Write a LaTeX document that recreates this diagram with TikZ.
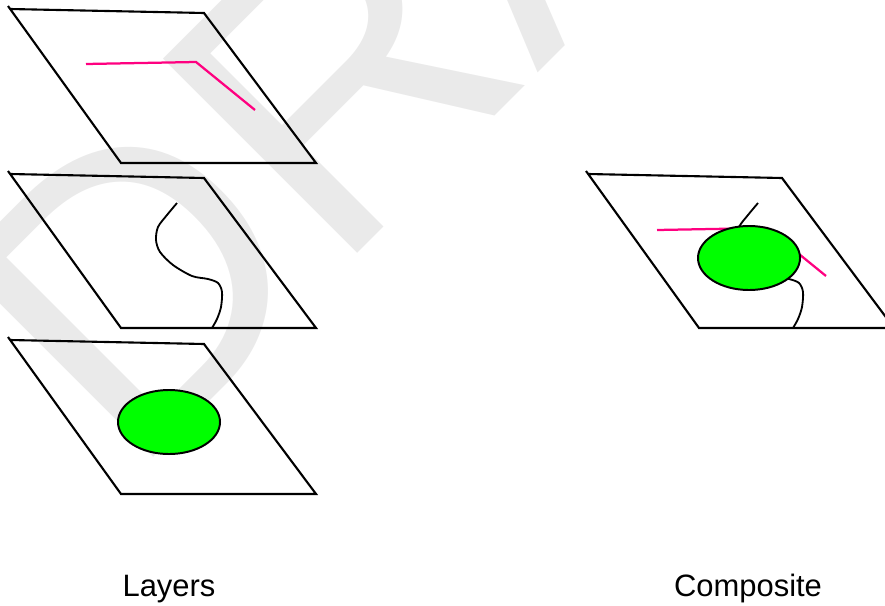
\documentclass[tikz,border=0pt]{standalone}
\usepackage{fontspec}
\setmainfont{Liberation Sans}
\usetikzlibrary{shapes.geometric}
\definecolor{layerpink}{RGB}{255,0,128}
\definecolor{blobgreen}{RGB}{0,255,0}
\definecolor{stampgray}{RGB}{234,234,234}

\begin{document}
\begin{tikzpicture}[x=0.025cm, y=-0.025cm,
    sheet/.style={line width=1.5pt},
    edge/.style={draw=layerpink, line width=1.6pt},
    wiggle/.style={line width=1.3pt},
    blob/.style={ellipse, draw, line width=1.4pt, fill=blobgreen, minimum width=2.55cm, minimum height=1.6cm, inner sep=0pt},
    caption/.style={font=\fontsize{22}{26}\selectfont, anchor=base}]
    \useasboundingbox (0,0) rectangle (885,605);
    \clip (0,0) rectangle (885,605);
    % watermark
    \node[anchor=base west, rotate=45, inner sep=0pt, text=stampgray, font=\fontsize{284}{300}\selectfont] (stamp) at (130,481) {DRAFT};
    % the three layers
    \foreach \y in {9,174,340}
      \draw[sheet] (10,\y) -- (204,\y+4) -- (316,\y+154) -- (121,\y+154) -- (8,\y-3);
    \draw[edge] (86,64) -- (196,62) -- (255,110);
    \draw[wiggle] plot[smooth] coordinates {(177,203) (167,215) (158,227) (156,240) (160,252) (173,265) (192,276) (208,279) (218,283) (222,292) (221,307) (217,319) (212,328)};
    \node[blob] (spot) at (169,422) {};
    % composite
    \draw[sheet] (588,174) -- (782,178) -- (894,328) -- (699,328) -- (586,171);
    \begin{scope}[shift={(571,166)}]
      \draw[edge] (86,64) -- (196,62) -- (255,110);
    \end{scope}
    \begin{scope}[shift={(581,0)}]
      \draw[wiggle] plot[smooth] coordinates {(177,203) (167,215) (158,227) (156,240) (160,252) (173,265) (192,276) (208,279) (218,283) (222,292) (221,307) (217,319) (212,328)};
    \end{scope}
    \node[blob] (spotc) at (749,258) {};
    % captions
    \node[caption] (layers) at (169,596) {Layers};
    \node[caption] (composite) at (748,596) {Composite};
\end{tikzpicture}
\end{document}
